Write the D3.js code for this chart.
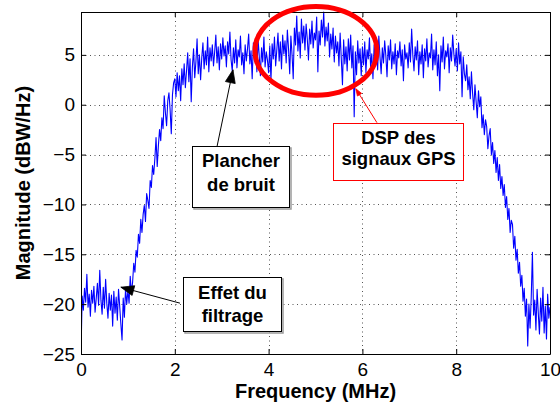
<!DOCTYPE html>
<html>
<head>
<meta charset="utf-8">
<script src="https://cdn.jsdelivr.net/npm/d3@7"></script>
<style>
  body { margin: 0; background: #fff; }
  svg { display: block; }
  text { font-family: "Liberation Sans", Arial, Helvetica, sans-serif; }
</style>
</head>
<body>
<svg id="chart" width="560" height="409"></svg>
<script>
// Power spectral density of the received GPS signal, sampled every 25 kHz over 0–10 MHz
const freqStart = 0;
const freqStep = 0.025;
const magnitude = [
  -25.0, -19.2, -20.6, -18.4, -19.8, -17.0, -20.3, -19.0, -21.2, -18.6,
  -19.9, -18.2, -20.8, -19.4, -17.9, -20.1, -16.6, -19.6, -21.0, -18.3,
  -20.4, -17.5, -19.9, -21.4, -18.9, -20.6, -19.1, -22.2, -18.7, -20.9,
  -19.3, -21.6, -18.5, -20.2, -22.0, -23.6, -19.4, -21.3, -18.4, -20.0,
  -18.6, -19.9, -17.2, -18.9, -17.8, -15.9, -16.8, -14.6, -15.3, -13.0,
  -13.9, -11.5, -12.8, -11.0, -10.1, -11.7, -8.9, -9.6, -10.4, -7.6,
  -8.3, -6.1, -7.0, -5.4, -3.3, -6.2, -4.1, -2.5, -3.6, -1.3,
  -2.4, 0.9, -0.8, -2.1, 0.4, 1.2, -0.5, -2.9, 1.0, 2.2,
  2.6, 0.8, 3.2, 1.4, 2.9, 0.4, 3.6, 2.0, 4.1, 1.7,
  3.4, 5.2, 2.3, 4.6, 0.3, 3.8, 5.6, 2.7, 4.3, 6.6,
  3.1, 5.0, 2.5, 4.7, 6.2, 3.6, 5.4, 4.0, 6.8, 3.3,
  5.7, 4.4, 6.0, 3.9, 5.3, 7.0, 4.2, 5.8, 3.5, 6.1,
  4.6, 6.7, 4.9, 5.9, 3.8, 6.3, 5.1, 7.3, 4.5, 3.4,
  5.7, 4.2, 6.5, 3.7, 5.5, 4.8, 6.9, 4.0, 5.2, 3.1,
  6.0, 4.4, 5.6, 7.1, 4.1, 5.4, 2.6, 6.2, 4.7, 5.8,
  3.3, 6.6, 4.9, 2.9, 5.7, 4.3, 6.8, 3.8, 5.3, 4.5,
  3.2, 5.9, 2.4, 6.1, 4.6, 6.8, 3.9, 5.5, 7.2, 4.4,
  6.3, 3.6, 7.0, 5.1, 6.4, 4.2, 7.5, 5.6, 3.1, 6.9,
  5.0, 2.6, 7.7, 6.0, 8.9, 5.4, 7.3, 4.7, 8.6, 6.2,
  7.9, 5.5, 8.1, 6.6, 4.5, 7.6, 6.1, 8.4, 5.7, 7.2,
  6.5, 8.8, 3.3, 7.4, 6.0, 8.5, 6.8, 9.3, 5.9, 7.8,
  6.4, 8.2, 4.8, 7.1, 5.6, 7.7, 4.3, 6.9, 5.2, 6.3,
  3.9, 7.2, 4.6, 2.0, 6.5, 4.1, 5.8, 3.4, 6.6, 4.5,
  7.0, 3.7, 5.9, -1.2, 5.3, 3.0, 6.4, 4.2, 5.6, 2.9,
  5.8, 4.0, 6.3, 3.2, 5.5, 4.6, 6.7, 3.8, 5.1, 2.6,
  6.0, 4.4, 5.6, 3.5, 6.9, 4.8, 3.1, 5.7, 4.2, 6.4,
  4.9, 2.8, 5.9, 4.5, 6.5, 3.6, 5.3, 4.1, 6.1, 3.0,
  5.4, 4.7, 6.3, 3.9, 5.5, 2.4, 6.0, 4.6, 5.2, 3.7,
  6.2, 4.3, 7.6, 5.0, 3.4, 5.8, 4.5, 6.4, 3.0, 5.3,
  4.1, 6.0, 2.7, 5.6, 4.4, 6.6, 3.8, 5.2, 4.7, 7.1,
  3.5, 5.5, 4.0, 6.3, 2.9, 5.0, 1.4, 5.9, 4.3, 6.8,
  3.6, 5.4, 4.8, 6.1, 3.2, 5.7, 4.4, 7.0, 5.1, 3.9,
  5.6, 3.4, 6.2, 4.1, 5.3, 0.8, 4.8, 3.1, 2.4, 4.0,
  1.5, 2.8, 0.6, 3.3, 1.1, -0.5, 2.0, 0.3, -1.3, 1.4,
  -0.2, 0.8, -2.3, -1.0, -3.0, -1.5, -2.2, -4.4, -3.1, -2.4,
  -5.0, -3.8, -5.9, -4.6, -6.8, -5.3, -7.6, -6.0, -8.4, -7.2,
  -9.1, -8.0, -10.3, -9.2, -11.5, -10.4, -12.8, -11.6, -12.0, -14.4,
  -13.2, -15.6, -14.5, -16.9, -15.8, -18.2, -17.1, -19.7, -18.4, -21.2,
  -19.5, -24.2, -20.0, -22.4, -19.3, -14.8, -21.1, -19.6, -22.6, -18.5,
  -20.9, -23.0, -19.4, -21.7, -18.3, -22.9, -20.2, -23.5, -19.0, -21.4,
  -20.3
];
const frequency = magnitude.map((_, i) => +(freqStart + i * freqStep).toFixed(3));

const xDomain = [0, 10];
const yDomain = [-25, 9.3];
const xTicks = [0, 2, 4, 6, 8, 10];
const yTicks = [-25, -20, -15, -10, -5, 0, 5];
const xLabel = "Frequency (MHz)";
const yLabel = "Magnitude (dBW/Hz)";

// Callouts placed in data units (MHz, dB)
const callouts = [
  { lines: ["Plancher", "de bruit"], box: [2.37, -4.1, 4.43, -10.3], tail: [2.9, -4.2], tip: [3.24, 3.5],
    color: "#000", shadow: true, baselines: [-6.2, -8.7] },
  { lines: ["DSP des", "signaux GPS"], box: [5.37, -1.8, 8.14, -7.5], tail: [6.31, -1.8], tip: [5.86, 1.6],
    color: "#ff0000", shadow: false, baselines: [-3.9, -6.05] },
  { lines: ["Effet du", "filtrage"], box: [2.18, -17.3, 4.27, -22.7], tail: [2.11, -19.9], tip: [0.85, -18.3],
    color: "#000", shadow: true, baselines: [-19.45, -21.75] }
];
const highlight = { cx: 5.01, cy: 5.4, rx: 1.3, ry: 4.46 };

const width = 560, height = 409;
const margin = { left: 81, right: 10, top: 12, bottom: 55 };
const x = d3.scaleLinear().domain(xDomain).range([margin.left, width - margin.right]);
const y = d3.scaleLinear().domain(yDomain).range([height - margin.bottom, margin.top]);

const svg = d3.select("#chart");
const plotW = x.range()[1] - x.range()[0];
const plotH = y.range()[0] - y.range()[1];

svg.append("defs").append("clipPath").attr("id", "plot-clip")
  .append("rect").attr("x", x(0)).attr("y", y(yDomain[1]) - 1).attr("width", plotW).attr("height", plotH + 2);

// dotted grid
const grid = svg.append("g").attr("stroke", "#555").attr("stroke-width", 1).attr("stroke-dasharray", "1,3.5");
grid.selectAll("line.gx").data(xTicks.slice(1, -1)).join("line")
  .attr("x1", d => Math.round(x(d)) + 0.5).attr("x2", d => Math.round(x(d)) + 0.5)
  .attr("y1", y.range()[1]).attr("y2", y.range()[0]);
grid.selectAll("line.gy").data(yTicks.slice(1)).join("line")
  .attr("y1", d => Math.round(y(d)) + 0.5).attr("y2", d => Math.round(y(d)) + 0.5)
  .attr("x1", x.range()[0]).attr("x2", x.range()[1]);

// spectrum trace
const line = d3.line().x((d, i) => x(frequency[i])).y(d => y(d));
svg.append("path").datum(magnitude)
  .attr("clip-path", "url(#plot-clip)")
  .attr("fill", "none").attr("stroke", "#0000ff").attr("stroke-width", 1.1)
  .attr("stroke-linejoin", "round")
  .attr("d", line);

// axes: labelled bottom/left, plain top/right, ticks pointing inward
const tickFont = "19px";
const axB = svg.append("g").attr("transform", `translate(0,${y.range()[0]})`)
  .call(d3.axisBottom(x).tickValues(xTicks).tickSizeInner(-5).tickSizeOuter(0).tickPadding(9).tickFormat(d3.format("d")));
const axL = svg.append("g").attr("transform", `translate(${x.range()[0]},0)`)
  .call(d3.axisLeft(y).tickValues(yTicks).tickSizeInner(-5).tickSizeOuter(0).tickPadding(6).tickFormat(d3.format("d")));
const axT = svg.append("g").attr("transform", `translate(0,${y.range()[1]})`)
  .call(d3.axisTop(x).tickValues(xTicks).tickSizeInner(-5).tickSizeOuter(0).tickFormat(""));
const axR = svg.append("g").attr("transform", `translate(${x.range()[1]},0)`)
  .call(d3.axisRight(y).tickValues(yTicks).tickSizeInner(-5).tickSizeOuter(0).tickFormat(""));
[axB, axL, axT, axR].forEach(a => {
  a.selectAll("path.domain").attr("stroke", "#000").attr("stroke-width", 1);
  a.selectAll(".tick line").attr("stroke", "#000");
  a.selectAll("text").attr("fill", "#000").style("font-size", tickFont)
    .style("font-family", '"Liberation Sans", Arial, Helvetica, sans-serif');
});

// axis titles
svg.append("text").attr("x", (x.range()[0] + x.range()[1]) / 2).attr("y", 398)
  .attr("text-anchor", "middle").attr("font-weight", "bold").attr("font-size", 20).text(xLabel);
svg.append("text").attr("transform", `translate(30,${(y.range()[0] + y.range()[1]) / 2}) rotate(-90)`)
  .attr("text-anchor", "middle").attr("font-weight", "bold").attr("font-size", 20).text(yLabel);

// highlight ellipse around the GPS signal hump
svg.append("ellipse")
  .attr("cx", x(highlight.cx)).attr("cy", y(highlight.cy))
  .attr("rx", x(highlight.cx + highlight.rx) - x(highlight.cx))
  .attr("ry", y(highlight.cy - highlight.ry) - y(highlight.cy))
  .attr("fill", "none").attr("stroke", "#ff0000").attr("stroke-width", 5);

// callout boxes with arrows
function arrowHead(g, x1, y1, x2, y2, color, len, half) {
  const a = Math.atan2(y2 - y1, x2 - x1);
  const bx = x2 - len * Math.cos(a), by = y2 - len * Math.sin(a);
  const px = -Math.sin(a) * half, py = Math.cos(a) * half;
  g.append("path")
    .attr("d", `M${x2},${y2}L${bx + px},${by + py}L${bx - px},${by - py}Z`)
    .attr("fill", color).attr("stroke", color).attr("stroke-width", 0.8);
}
callouts.forEach(c => {
  const g = svg.append("g");
  const [bx0, by0, bx1, by1] = c.box;
  const X0 = Math.round(x(bx0)) + 0.5, X1 = Math.round(x(bx1)) + 0.5;
  const Y0 = Math.round(y(by0)) + 0.5, Y1 = Math.round(y(by1)) + 0.5;
  const t0 = [x(c.tail[0]), y(c.tail[1])], t1 = [x(c.tip[0]), y(c.tip[1])];
  g.append("line").attr("x1", t0[0]).attr("y1", t0[1]).attr("x2", t1[0]).attr("y2", t1[1])
    .attr("stroke", c.color).attr("stroke-width", 1);
  if (c.color === "#000") arrowHead(g, t0[0], t0[1], t1[0], t1[1], c.color, 13, 5);
  else arrowHead(g, t0[0], t0[1], t1[0], t1[1], c.color, 7, 2.5);
  if (c.shadow) {
    g.append("rect").attr("x", X0 + 1.5).attr("y", Y0 + 1.5).attr("width", X1 - X0).attr("height", Y1 - Y0)
      .attr("fill", "none").attr("stroke", "#9a9a9a").attr("stroke-width", 1.5);
  }
  g.append("rect").attr("x", X0).attr("y", Y0).attr("width", X1 - X0).attr("height", Y1 - Y0)
    .attr("fill", "#fff").attr("stroke", c.color).attr("stroke-width", 1);
  c.lines.forEach((s, i) => {
    g.append("text").attr("x", (X0 + X1) / 2).attr("y", y(c.baselines[i]))
      .attr("text-anchor", "middle").attr("font-weight", "bold").attr("font-size", 18.5)
      .attr("fill", "#000").text(s);
  });
});
</script>
</body>
</html>
